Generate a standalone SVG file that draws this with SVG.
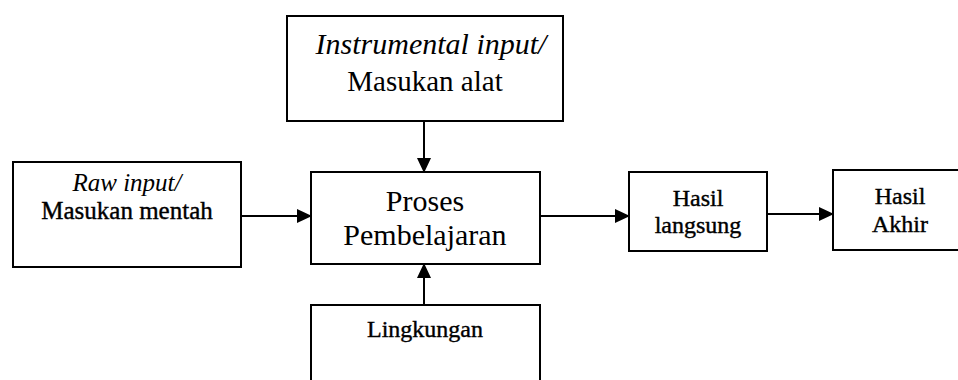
<svg xmlns="http://www.w3.org/2000/svg" width="958" height="380" viewBox="0 0 958 380">
<style>
.box{fill:#fff;stroke:#000;stroke-width:2}
.t{font-family:"Liberation Serif","Times New Roman",serif;fill:#000;text-anchor:middle}
.i{font-style:italic}
.h{stroke:#000;stroke-width:0.4}
.c{stroke:#000;stroke-width:2;fill:none}
</style>
<defs>
<marker id="ah" markerUnits="userSpaceOnUse" markerWidth="16" markerHeight="14" refX="14" refY="7" orient="auto">
<path d="M0,0 L15,7 L0,14 Z" fill="#000"/>
</marker>
</defs>
<rect width="958" height="380" fill="#fff"/>
<g id="connectors">
<line class="c" x1="241" y1="216" x2="311" y2="216" marker-end="url(#ah)"/>
<line class="c" x1="424" y1="121" x2="424" y2="172" marker-end="url(#ah)"/>
<line class="c" x1="424" y1="305" x2="424" y2="264" marker-end="url(#ah)"/>
<line class="c" x1="540" y1="216" x2="629" y2="216" marker-end="url(#ah)"/>
<line class="c" x1="767" y1="214" x2="833" y2="214" marker-end="url(#ah)"/>
</g>
<g id="raw">
<rect class="box" x="13" y="162" width="228" height="105"/>
<text class="t i" x="127" y="191" font-size="25">Raw input/</text>
<text class="t h" x="127" y="219" font-size="25">Masukan mentah</text>
</g>
<g id="instrumental">
<rect class="box" x="287" y="16" width="276" height="105"/>
<text class="t i" x="431" y="54" font-size="30">Instrumental input/</text>
<text class="t" x="425" y="91" font-size="29">Masukan alat</text>
</g>
<g id="proses">
<rect class="box" x="311" y="172" width="229" height="92"/>
<text class="t" x="425" y="211" font-size="30">Proses</text>
<text class="t" x="425" y="245" font-size="30">Pembelajaran</text>
</g>
<g id="lingkungan">
<rect class="box" x="311" y="305" width="229" height="90"/>
<text class="t h" x="425" y="337" font-size="24">Lingkungan</text>
</g>
<g id="hasil-langsung">
<rect class="box" x="629" y="172" width="138" height="79"/>
<text class="t h" x="698" y="206" font-size="24">Hasil</text>
<text class="t h" x="698" y="233" font-size="24">langsung</text>
</g>
<g id="hasil-akhir">
<rect class="box" x="833" y="170" width="140" height="80"/>
<text class="t h" x="900" y="204" font-size="24">Hasil</text>
<text class="t h" x="900" y="232" font-size="24">Akhir</text>
</g>
</svg>
